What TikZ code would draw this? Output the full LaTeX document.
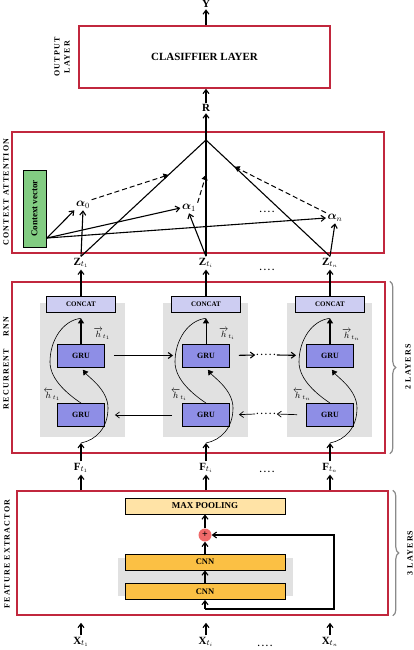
\documentclass[tikz,border=0pt]{standalone}
\usepackage{amsmath}
\usepackage{fontspec}
\setmainfont{Liberation Serif}
\newfontfamily\sidefont[LetterSpace=15]{Liberation Serif}
\newfontfamily\dotfont[LetterSpace=22]{Liberation Serif}
\usetikzlibrary{arrows.meta,calc,decorations.pathreplacing}
\definecolor{boxred}{HTML}{C1273D}
\definecolor{grublue}{HTML}{8E8EE6}
\definecolor{concatblue}{HTML}{CDCDF2}
\definecolor{panelgray}{HTML}{E1E1E1}
\definecolor{cnnorange}{HTML}{FBC044}
\definecolor{poolorange}{HTML}{FFE3A6}
\definecolor{ctxgreen}{HTML}{82CC82}
\definecolor{plusred}{HTML}{F06A6A}
\definecolor{bracegray}{HTML}{8A8A8A}

\tikzset{
  layerbox/.style={draw=boxred, line width=1.6pt},
  sidelabel/.style={rotate=90, align=center, inner sep=0pt,
                    font=\fontsize{8}{10}\selectfont\sidefont\bfseries},
  lbl/.style={font=\bfseries\fontsize{11}{12}\selectfont, inner sep=1.5pt},
  hlbl/.style={font=\bfseries\fontsize{9}{10}\selectfont, inner sep=0.5pt},
  grubox/.style={draw=black, line width=0.9pt, fill=grublue,
                 minimum width=47pt, minimum height=23pt,
                 font=\bfseries\fontsize{8}{9}\selectfont},
  concatbox/.style={draw=black, line width=0.6pt, fill=concatblue,
                    minimum width=69pt, minimum height=16pt,
                    font=\bfseries\fontsize{7}{8}\selectfont},
  panel/.style={fill=panelgray, minimum width=85pt, minimum height=134pt},
  cnnbox/.style={draw=black, line width=0.7pt, fill=cnnorange,
                 minimum width=160pt, minimum height=16pt,
                 font=\bfseries\fontsize{8.5}{9}\selectfont},
  arr/.style={-{Straight Barb[length=4pt,width=6pt]}, line width=1.1pt},
  thinarr/.style={-{Straight Barb[length=4pt,width=6pt]}, line width=0.7pt},
  triarr/.style={-{Triangle[length=5pt,width=6pt]}, line width=1.1pt},
  wire/.style={line width=0.6pt},
  dotsnode/.style={font=\fontsize{9}{9}\selectfont\dotfont\bfseries, inner sep=1pt}
}

\begin{document}
\begin{tikzpicture}[x=1pt,y=-1pt]
  \useasboundingbox (0,0) rectangle (414,650);

  % Output layer
  \node[layerbox, minimum width=251pt, minimum height=62pt,
        font=\bfseries\fontsize{11}{12}\selectfont] (clf) at (204.5,57) {CLASIFFIER LAYER};
  \node[sidelabel] (outlbl) at (62,57) {OUTPUT\\LAYER};
  \node[lbl] (y) at (206,4) {Y};
  \node[lbl] (r) at (206,108) {R};
  \draw[arr] (clf.north -| y) -- (y.south);
  \draw[arr] (r.north) -- (clf.south -| r);

  % Context attention
  \node[layerbox, minimum width=372pt, minimum height=121pt] (att) at (198,192.5) {};
  \node[sidelabel] (attlbl) at (6,192) {CONTEXT ATTENTION};
  \coordinate (apex) at (206,140);
  \draw[arr] (apex) -- (r.south);
  \node[draw=black, line width=0.8pt, fill=ctxgreen, rotate=90,
        minimum width=77pt, minimum height=23pt,
        font=\bfseries\fontsize{9}{10}\selectfont] (ctx) at (34.5,208.5) {Context vector};
  \coordinate (cv) at (47,238);

  \node[lbl, font=\fontsize{12}{12}\selectfont] (a0) at (83,205) {$\boldsymbol{\alpha}_0$};
  \node[lbl, font=\fontsize{12}{12}\selectfont] (a1) at (189,208) {$\boldsymbol{\alpha}_1$};
  \node[lbl, font=\fontsize{12}{12}\selectfont] (an) at (335,218) {$\boldsymbol{\alpha}_n$};
  \node[dotsnode] (adots) at (267,212) {....};

  \node[lbl] (z1) at (81,263) {Z$_{t_1}$};
  \node[lbl] (z2) at (206,263) {Z$_{t_i}$};
  \node[lbl] (z3) at (330,263) {Z$_{t_n}$};
  \node[dotsnode] (zdots) at (267,270) {....};

  \draw[line width=1.1pt] (apex) -- (z1.north);
  \draw[line width=1.3pt] (apex) -- (z2.north);
  \draw[line width=1.1pt] (apex) -- (z3.north);
  \draw[arr] (cv) -- (a0.south west);
  \draw[arr] (cv) -- (a1.west);
  \draw[arr] (cv) -- (an.west);
  \draw[triarr, line width=1pt, dash pattern=on 5pt off 3pt] (a0.north east) -- ($(apex)!0.3!(z1.north)$);
  \draw[triarr, line width=1pt, dash pattern=on 5pt off 3pt] (a1.north east) -- ($(apex)!0.3!(z2.north)$);
  \draw[triarr, line width=1pt, dash pattern=on 5pt off 3pt] (an.north west) -- ($(apex)!0.23!(z3.north)$);
  \draw[arr] (z1.north) -- (a0.south);
  \draw[arr] (z2.north) -- (a1.south);
  \draw[arr] (z3.north) -- (an.south);

  % Recurrent layer
  \node[layerbox, minimum width=373pt, minimum height=171pt] (rnn) at (198.5,367.5) {};
  \node[sidelabel] (rnnlbl) at (6,363) {RECURRENT\hspace{12pt}RNN};
  \draw[bracegray, line width=1.2pt, decorate, decoration={brace, amplitude=6pt}]
    ([xshift=4pt]rnn.north east) -- ([xshift=4pt]rnn.south east);
  \node[sidelabel] (rnnlayers) at (408,367) {2 LAYERS};

  % Left column
  \node[panel] (p1) at (82.5,370) {};
  \node[concatbox] (c1) at (81,304) {CONCAT};
  \node[grubox] (g1u) at (81,355.5) {GRU};
  \node[grubox] (g1d) at (81,415) {GRU};
  \node[hlbl] (h1u) at (102,334) {$\overrightarrow{h}_{t_1}$};
  \node[hlbl] (h1d) at (52,395) {$\overleftarrow{h}_{t_1}$};
  \coordinate (t1) at ($(c1.south)+(0,6)$);
  \coordinate (in1) at (81,443);
  \draw[triarr] (g1u.north) -- (t1);
  \draw[wire] (g1d.north) .. controls +(-12,-8) and +(0,18) .. (50,362)
                          .. controls +(0,-22) and +(-18,2) .. (t1);
  \draw[wire, -{Triangle[length=5pt,width=6pt]}, shorten >=3pt]
    (in1) .. controls +(15,-3) and +(0,20) .. (108,408)
          .. controls +(0,-18) and +(8,10) .. (g1u.south);

  % Middle column
  \node[panel] (p2) at (205.5,370) {};
  \node[concatbox] (c2) at (206,304) {CONCAT};
  \node[grubox] (g2u) at (206,355.5) {GRU};
  \node[grubox] (g2d) at (206,415) {GRU};
  \node[hlbl] (h2u) at (227,334) {$\overrightarrow{h}_{t_i}$};
  \node[hlbl] (h2d) at (179,395) {$\overleftarrow{h}_{t_i}$};
  \coordinate (t2) at ($(c2.south)+(0,6)$);
  \coordinate (in2) at (206,443);
  \draw[triarr, line width=0.8pt] (g2u.north) -- (t2);
  \draw[wire] (g2d.north) .. controls +(-12,-8) and +(0,18) .. (175,362)
                          .. controls +(0,-22) and +(-18,2) .. (t2);
  \draw[wire, -{Triangle[length=5pt,width=6pt]}, shorten >=3pt]
    (in2) .. controls +(15,-3) and +(0,20) .. (233,408)
          .. controls +(0,-18) and +(8,10) .. (g2u.south);

  % Right column
  \node[panel] (p3) at (329,370) {};
  \node[concatbox] (c3) at (330,304) {CONCAT};
  \node[grubox] (g3u) at (330,355.5) {GRU};
  \node[grubox] (g3d) at (330,415) {GRU};
  \node[hlbl] (h3u) at (351,335) {$\overrightarrow{h}_{t_n}$};
  \node[hlbl] (h3d) at (302,395) {$\overleftarrow{h}_{t_n}$};
  \coordinate (t3) at ($(c3.south)+(0,6)$);
  \coordinate (in3) at (330,443);
  \draw[triarr] (g3u.north) -- (t3);
  \draw[wire] (g3d.north) .. controls +(-12,-8) and +(0,18) .. (299,362)
                          .. controls +(0,-22) and +(-18,2) .. (t3);
  \draw[wire, -{Triangle[length=5pt,width=6pt]}, shorten >=3pt]
    (in3) .. controls +(15,-3) and +(0,20) .. (357,408)
          .. controls +(0,-18) and +(8,10) .. (g3u.south);

  % Links between steps
  \node[dotsnode] (udots) at (266,355) {.....};
  \node[dotsnode] (ldots) at (266,414) {.....};
  \draw[arr, shorten <=9pt, shorten >=9pt] (g1u.east) -- (g2u.west);
  \draw[arr, shorten <=9pt] (g2u.east) -- (udots.west);
  \draw[arr, shorten >=10pt] (udots.east) -- (g3u.west);
  \draw[thinarr, shorten <=10pt, shorten >=10pt] (g2d.west) -- (g1d.east);
  \draw[thinarr, shorten <=9pt] (g3d.west) -- (ldots.east);
  \draw[thinarr, shorten >=9pt] (ldots.west) -- (g2d.east);

  \draw[arr] (c1.north) -- (z1.south);
  \draw[arr] (c2.north) -- (z2.south);
  \draw[arr] (c3.north) -- (z3.south);

  % Features
  \node[lbl] (f1) at (81,468) {F$_{t_1}$};
  \node[lbl] (f2) at (206,468) {F$_{t_i}$};
  \node[lbl] (f3) at (330,468) {F$_{t_n}$};
  \node[dotsnode] (fdots) at (267,472) {....};
  \draw[arr] (f1.north) -- (in1);
  \draw[arr] (f2.north) -- (in2);
  \draw[arr] (f3.north) -- (in3);

  % Feature extractor
  \node[layerbox, minimum width=371pt, minimum height=124pt] (feat) at (202.5,553) {};
  \node[sidelabel] (featlbl) at (7,554) {FEATURE EXTRACTOR};
  \draw[bracegray, line width=1.2pt, decorate, decoration={brace, amplitude=6pt}]
    ([xshift=4pt]feat.north east) -- ([xshift=4pt]feat.south east);
  \node[sidelabel] (featlayers) at (410,553) {3 LAYERS};
  \draw[arr] (feat.north -| f1) -- (f1.south);
  \draw[arr] (feat.north -| f2) -- (f2.south);
  \draw[arr] (feat.north -| f3) -- (f3.south);

  \node[draw=black, line width=0.7pt, fill=poolorange, minimum width=160pt, minimum height=16pt,
        font=\bfseries\fontsize{9}{10}\selectfont] (pool) at (205,506) {MAX POOLING};
  \node[circle, fill=plusred, minimum size=13pt, inner sep=0pt,
        font=\bfseries\fontsize{10}{10}\selectfont] (plus) at (205,535) {+};
  \node[fill=panelgray, minimum width=175pt, minimum height=38pt] (cp) at (205.5,577) {};
  \node[cnnbox] (cnn2) at (205,562) {CNN};
  \node[cnnbox] (cnn1) at (205,591.5) {CNN};
  \coordinate (skip) at (205,609);
  \coordinate (loop) at (334,609);
  \draw[arr] (cnn1.north) -- (cnn2.south);
  \draw[arr] (cnn2.north) -- (plus.south);
  \draw[arr] (plus.north) -- (pool.south);
  \draw[arr] (skip) -- (cnn1.south);
  \draw[arr] (skip) -- (loop) |- (plus.east);

  % Inputs
  \node[lbl] (x1) at (81,642) {X$_{t_1}$};
  \node[lbl] (x2) at (206,642) {X$_{t_i}$};
  \node[lbl] (x3) at (330,642) {X$_{t_n}$};
  \node[dotsnode] (xdots) at (265,646) {....};
  \draw[arr, shorten >=7pt] (x1.north) -- (x1.north |- feat.south);
  \draw[arr, shorten >=7pt] (x2.north) -- (x2.north |- feat.south);
  \draw[arr, shorten >=7pt] (x3.north) -- (x3.north |- feat.south);
\end{tikzpicture}
\end{document}
